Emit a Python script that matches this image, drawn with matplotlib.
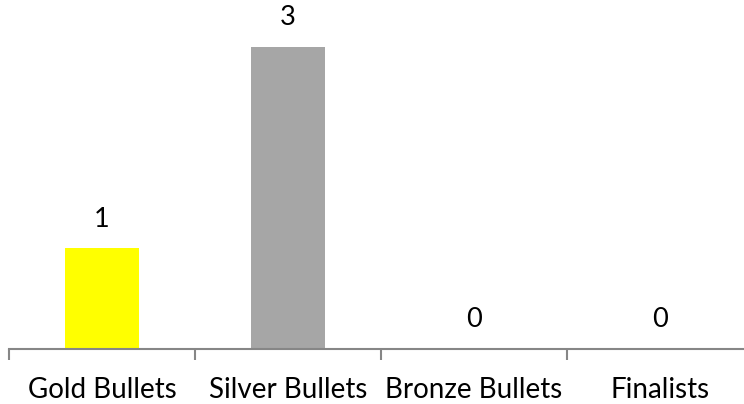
import matplotlib.pyplot as plt

categories = ['Gold Bullets', 'Silver Bullets', 'Bronze Bullets', 'Finalists']
counts = [1, 3, 0, 0]
bar_colors = ['#FFFF00', '#A6A6A6', '#CD7F32', '#4F81BD']

plt.rcParams['font.family'] = ['Lato', 'DejaVu Sans']

fig = plt.figure(figsize=(7.44, 4.04), dpi=100)
# axis line sits at y=349px, first tick at x=9px; right end runs off the canvas
ax = fig.add_axes([9 / 744, 55 / 404, 744 / 744, 349 / 404])

x = list(range(len(categories)))
ax.bar(x, counts, width=0.4, color=bar_colors)

for xi, v in zip(x, counts):
    ax.annotate(str(v), (xi, v), xytext=(0, 12), textcoords='offset points',
                ha='center', va='bottom', fontsize=19.5, color='black')

ax.set_xlim(-0.5, 3.5)
ax.set_ylim(0, 349 / 100.67)

ax.set_xticks([i - 0.5 for i in range(len(categories))])
ax.set_xticklabels([])
ax.set_xticks(x, minor=True)
ax.set_xticklabels(categories, minor=True, fontsize=20)
ax.tick_params(axis='x', which='major', length=8, width=1.5, color='#868686', direction='out')
ax.tick_params(axis='x', which='minor', length=0, pad=20)

ax.set_yticks([])
for s in ['top', 'right', 'left']:
    ax.spines[s].set_visible(False)
ax.spines['bottom'].set_color('#868686')
ax.spines['bottom'].set_linewidth(1.5)

fig.savefig('out.png', dpi=100)
